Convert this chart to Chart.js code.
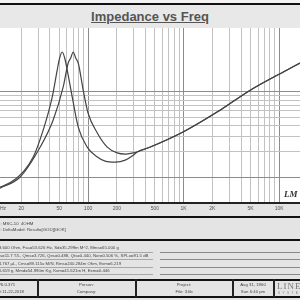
<!DOCTYPE html>
<html>
<head>
<meta charset="utf-8">
<script src="https://cdn.jsdelivr.net/npm/chart.js@4"></script>
<style>
  html, body { margin: 0; padding: 0; }
  body { width: 300px; height: 300px; overflow: hidden; position: relative;
         background: #e4e4e4; font-family: "Liberation Sans", Arial, sans-serif; color: #333; }
  .abs { position: absolute; }
  .bar { position: absolute; left: 0; width: 300px; background: #111; }
  .title { left: 0; top: 5px; width: 300px; height: 23px; background: #e8e8e8;
           text-align: center; font-weight: bold; font-size: 13px; line-height: 24px;
           color: #555; }
  .title span { text-decoration: underline; }
  .tiny { font-size: 4.3px; white-space: nowrap; line-height: 5px; color: #444; }
  .rule { position: absolute; height: 1px; background: #a8a8a8; }
  .cell { position: absolute; top: 281px; height: 15px; text-align: center; }
  .vline { position: absolute; top: 279px; width: 1.5px; height: 18px; background: #222; }
</style>
</head>
<body>
<div class="abs" style="left:0;top:0;width:300px;height:3px;background:#f4f4f4"></div>
<div class="bar" style="top:3px;height:2px"></div>
<div class="abs title"><span>Impedance vs Freq</span></div>

<canvas id="zChart" class="abs" style="left:0;top:28px" width="300" height="184"></canvas>
<div class="abs" style="left:284px;top:189px;font:italic bold 9px 'Liberation Serif',serif;color:#333">LM</div>

<div class="bar" style="top:216px;height:2px"></div>
<div class="abs tiny" style="left:-2px;top:221px">1: MSC-10&nbsp; 4OHM</div>
<div class="abs tiny" style="left:-2px;top:227px">2: DeltaModel: Result=[GOD][GOK]</div>
<div class="bar" style="top:239px;height:2px"></div>

<div class="abs tiny" style="left:-6px;top:245px">e=3.600 Ohm, Fsa=53.626 Hz, Sd=35.299m M^2, Mms=65.000 g</div>
<div class="abs tiny" style="left:-6px;top:253px">Lms=11.7 T/L, Qms=3.726, Qes=0.488, Qts=0.440, Nor=0.506 %, SPLo=91.5 dB</div>
<div class="abs tiny" style="left:-6px;top:261px">s=4.767 µL, Cms=89.115u M/N, Rms=240.284m Ohm, Exm=6.219</div>
<div class="abs tiny" style="left:-6px;top:268px">d=6.619 g, Mmd=54.990m Kg, Kxm=41.621m H, Exm=0.446</div>
<div class="rule" style="left:0;top:252px;width:153px"></div>
<div class="rule" style="left:160px;top:252px;width:140px;background:#888"></div>
<div class="rule" style="left:0;top:259px;width:153px"></div>
<div class="rule" style="left:160px;top:259px;width:140px;background:#888"></div>
<div class="rule" style="left:0;top:267px;width:153px"></div>
<div class="rule" style="left:160px;top:267px;width:140px;background:#888"></div>
<div class="rule" style="left:0;top:274px;width:153px"></div>
<div class="rule" style="left:160px;top:274px;width:140px;background:#888"></div>

<div class="bar" style="top:279px;height:2px"></div>
<div class="bar" style="top:296px;height:1.5px"></div>
<div class="vline" style="left:37px"></div>
<div class="vline" style="left:135px"></div>
<div class="vline" style="left:232px"></div>
<div class="vline" style="left:273px"></div>
<div class="cell tiny" style="left:-2px;width:38px;text-align:left;line-height:7px">V6.0.371<br>D:11-22-2018</div>
<div class="cell tiny" style="left:38px;width:97px;line-height:7px">Person:<br>Company:</div>
<div class="cell tiny" style="left:136px;width:96px;line-height:7px">Project:<br>File: 3.lib</div>
<div class="cell tiny" style="left:233px;width:40px;line-height:7px">Aug 31, 1960<br>Sun 6:40 pm</div>
<div class="abs" style="left:277px;top:281px;font:9px 'Liberation Serif',serif;color:#777;letter-spacing:1px;white-space:nowrap">LINEARX</div>
<div class="abs" style="left:278px;top:291px;font:3px 'Liberation Sans',sans-serif;color:#777;letter-spacing:2.5px;white-space:nowrap">SYSTEMS</div>

<script>
// impedance curves (Hz, Ohm)
const freqA = [12, 17.3, 26.7, 34.0, 42.2, 47.6, 50.5, 53.7, 57.0, 60.6, 68.4, 79, 98, 125, 151, 193, 245, 297, 326, 448, 986, 2240, 4980, 11040, 16500];
const zA    = [7.6, 9.4, 17.2, 35.8, 87, 181, 251, 295, 251, 181, 87, 38.7, 22.5, 17.2, 15.4, 15.0, 15.8, 18.0, 19.7, 22.5, 33.8, 58, 105, 172, 219];
const freqB = [12, 19.5, 31.6, 43.2, 55, 62, 65.9, 70, 74.3, 79, 89, 100, 125, 159, 202, 245, 297, 326, 448, 986, 2240, 4980, 11040, 16500];
const zB    = [7.4, 10, 22.5, 46.9, 114.5, 219, 251, 295, 251, 219, 105, 56.6, 33, 22.5, 19.2, 18.6, 19.2, 19.7, 22.5, 33.8, 58, 105, 172, 219];

// grid and axis labels
const gridFreqs = [20, 30, 40, 50, 60, 70, 80, 90, 100, 200, 300, 400, 500, 600, 700, 800, 900,
                   1000, 2000, 3000, 4000, 5000, 6000, 7000, 8000, 9000, 10000];
const gridOhms = [10, 20, 30, 40, 50, 60, 70, 80, 90, 100];
const labelFreqs = [20, 50, 100, 200, 500, 1000, 2000, 5000, 10000];
const freqLabels = ['20', '50', '100', '200', '500', '1K', '2K', '5K', '10K'];

function isDecade(v) {
    return Math.abs(Math.log10(v) - Math.round(Math.log10(v))) < 1e-6;
}

const plotBack = {
    id: 'plotBack',
    beforeDraw(chart) {
        const { ctx, chartArea: a } = chart;
        ctx.save();
        ctx.fillStyle = '#ffffff';
        ctx.fillRect(a.left, a.top, a.right - a.left, a.bottom - a.top);
        ctx.restore();
    }
};

const freqText = {
    id: 'freqText',
    afterDraw(chart) {
        const { ctx, scales } = chart;
        const y = chart.chartArea.bottom + 6;
        ctx.save();
        ctx.font = '5px "Liberation Sans", Arial, sans-serif';
        ctx.fillStyle = '#555';
        ctx.textBaseline = 'middle';
        ctx.textAlign = 'left';
        ctx.fillText('Hz', 0, y);
        ctx.textAlign = 'center';
        labelFreqs.forEach((f, i) => {
            ctx.fillText(freqLabels[i], scales.x.getPixelForValue(f), y);
        });
        ctx.restore();
    }
};

function makeSet(freqs, ohms) {
    return {
        data: freqs.map((f, i) => ({ x: f, y: ohms[i] })),
        borderColor: '#444',
        borderWidth: 1.2,
        pointRadius: 0,
        cubicInterpolationMode: 'monotone',
        fill: false
    };
}

new Chart(document.getElementById('zChart').getContext('2d'), {
    type: 'line',
    data: { datasets: [makeSet(freqA, zA), makeSet(freqB, zB)] },
    options: {
        responsive: false,
        animation: false,
        devicePixelRatio: 1,
        layout: { padding: 0 },
        plugins: { legend: { display: false }, tooltip: { enabled: false } },
        scales: {
            x: {
                type: 'logarithmic',
                min: 12,
                max: 16500,
                afterBuildTicks: s => { s.ticks = gridFreqs.map(v => ({ value: v })); },
                afterFit: s => { s.height = 9; },
                ticks: { display: false },
                grid: {
                    drawTicks: false,
                    color: c => (c.tick && isDecade(c.tick.value)) ? '#8c8c8c' : '#c2c2c2',
                    lineWidth: 1
                },
                border: { display: true, color: '#222', width: 2 }
            },
            y: {
                type: 'logarithmic',
                min: 4.95,
                max: 565,
                afterBuildTicks: s => { s.ticks = gridOhms.map(v => ({ value: v })); },
                afterFit: s => { s.width = 0; },
                ticks: { display: false },
                grid: {
                    drawTicks: false,
                    color: c => (c.tick && isDecade(c.tick.value)) ? '#8c8c8c' : '#c2c2c2',
                    lineWidth: 1
                },
                border: { display: false }
            }
        }
    },
    plugins: [plotBack, freqText]
});
</script>
</body>
</html>
